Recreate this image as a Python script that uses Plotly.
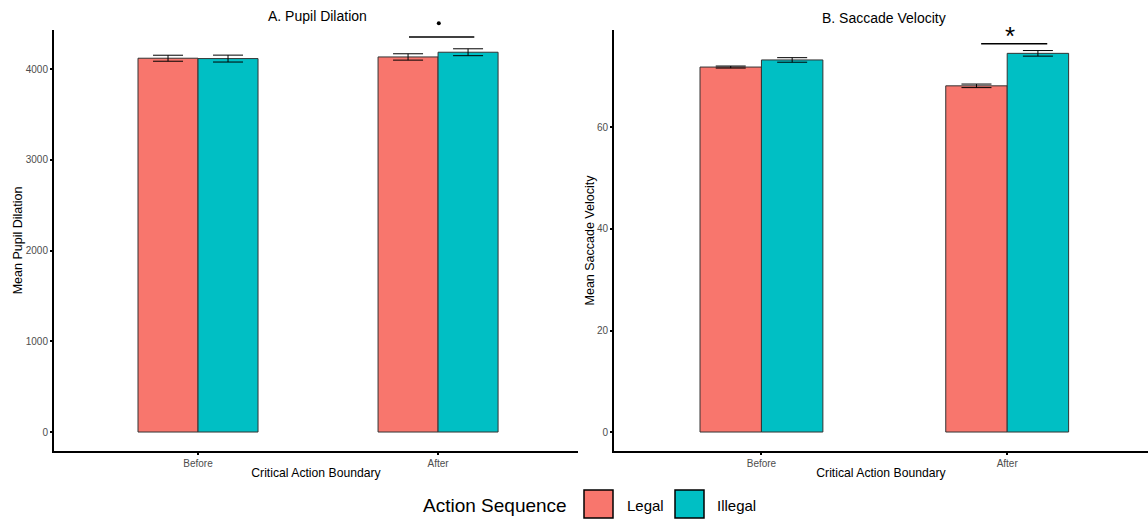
import plotly.graph_objects as go

W, H = 1148, 519

categories = ["Before", "After"]
series_names = ["Legal", "Illegal"]
colors = ["#F8766D", "#00BFC4"]

pupil_legal = [4119, 4133]
pupil_legal_err = [33, 35]
pupil_illegal = [4115, 4185]
pupil_illegal_err = [38, 38]

sacc_legal = [71.9, 68.2]
sacc_legal_err = [0.2, 0.35]
sacc_illegal = [73.3, 74.6]
sacc_illegal_err = [0.45, 0.55]

FONT = "Arial, Liberation Sans, sans-serif"

def px(x):
    return x / W

def py(y):
    return 1 - y / H

fig = go.Figure()

panels = [
    ("x", "y", [pupil_legal, pupil_illegal], [pupil_legal_err, pupil_illegal_err]),
    ("x2", "y2", [sacc_legal, sacc_illegal], [sacc_legal_err, sacc_illegal_err]),
]
for xa, ya, vals, errs in panels:
    for i in range(2):
        fig.add_trace(go.Bar(
            x=categories, y=vals[i], name=series_names[i], xaxis=xa, yaxis=ya,
            marker=dict(color=colors[i], line=dict(color="#333333", width=1)),
            error_y=dict(type="data", array=errs[i], color="black", thickness=1, width=15),
            showlegend=False, offsetgroup=str(i),
        ))

fig.update_layout(
    width=W, height=H, barmode="group", bargap=0.5, bargroupgap=0,
    plot_bgcolor="white", paper_bgcolor="white",
    margin=dict(l=0, r=0, t=0, b=0),
    font=dict(family=FONT, color="black"),
)

axis_common = dict(showline=True, linecolor="black", linewidth=2, ticks="outside",
                   ticklen=2, tickwidth=1.5, tickcolor="black", showgrid=False,
                   zeroline=False, tickfont=dict(size=10, color="#4d4d4d"))
ydom = [py(451), py(30)]
fig.update_layout(
    xaxis=dict(domain=[px(54), px(578)], anchor="y", range=[-0.6, 1.583],
               title=dict(text="Critical Action Boundary", font=dict(size=12.2), standoff=0),
               **axis_common),
    yaxis=dict(domain=ydom, anchor="x", range=[-209, 4430], tickvals=[0, 1000, 2000, 3000, 4000],
               title=dict(text="Mean Pupil Dilation", font=dict(size=12.5), standoff=0),
               **axis_common),
    xaxis2=dict(domain=[px(614), 1], anchor="y2", range=[-0.6, 1.573],
                title=dict(text="Critical Action Boundary", font=dict(size=12.2), standoff=0),
                **axis_common),
    yaxis2=dict(domain=ydom, anchor="x2", range=[-3.74, 79.2], tickvals=[0, 20, 40, 60],
                title=dict(text="Mean Saccade Velocity", font=dict(size=12.5), standoff=0),
                **axis_common),
)

# significance lines
fig.add_shape(type="line", xref="x", yref="y", x0=0.879, x1=1.151, y0=4353, y1=4353,
              line=dict(color="black", width=1.5))
fig.add_shape(type="circle", xref="paper", yref="paper",
              x0=px(436.8), x1=px(440.8), y0=py(25.3), y1=py(21.3),
              fillcolor="black", line=dict(color="black", width=0))
fig.add_shape(type="line", xref="x2", yref="y2", x0=0.894, x1=1.163, y0=76.5, y1=76.5,
              line=dict(color="black", width=1.5))
fig.add_annotation(xref="paper", yref="paper", x=px(1010), y=py(36), text="*", showarrow=False,
                   font=dict(size=26, color="black"), xanchor="center", yanchor="middle")

# titles
fig.add_annotation(xref="paper", yref="paper", x=px(317.5), y=py(16), text="A. Pupil Dilation",
                   showarrow=False, font=dict(size=14), xanchor="center", yanchor="middle")
fig.add_annotation(xref="paper", yref="paper", x=px(884), y=py(18), text="B. Saccade Velocity",
                   showarrow=False, font=dict(size=14), xanchor="center", yanchor="middle")

# legend (custom)
fig.add_annotation(xref="paper", yref="paper", x=px(421), y=py(505), text="Action Sequence",
                   showarrow=False, font=dict(size=19), xanchor="left", yanchor="middle")
for name, col, x0, tx in [("Legal", colors[0], 584, 625), ("Illegal", colors[1], 675, 715)]:
    fig.add_shape(type="rect", xref="paper", yref="paper", x0=px(x0), x1=px(x0 + 29),
                  y0=py(518), y1=py(490), fillcolor=col, line=dict(color="black", width=1.5))
    fig.add_annotation(xref="paper", yref="paper", x=px(tx), y=py(505), text=name,
                       showarrow=False, font=dict(size=15), xanchor="left", yanchor="middle")

fig.write_html("out.html", config={"displayModeBar": False},
               post_script="document.body.style.margin='0';document.body.style.padding='0';document.documentElement.style.overflow='hidden';")
